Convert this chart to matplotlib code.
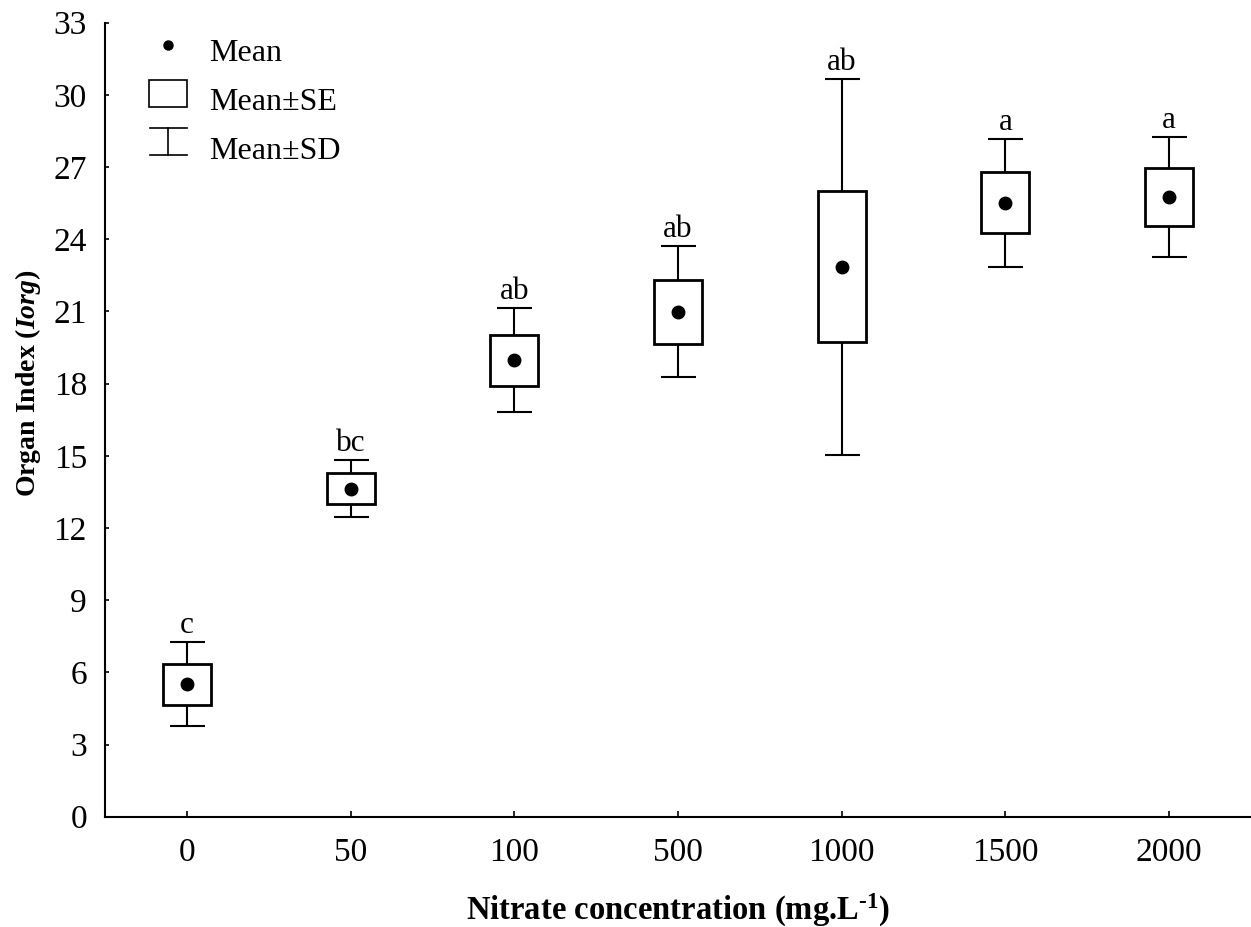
import numpy as np
import matplotlib
matplotlib.use('Agg')
import matplotlib.pyplot as plt
from matplotlib.patches import Rectangle

# Gegevens
concentrations = ['0', '50', '100', '500', '1000', '1500', '2000']
means = [5.50, 13.64, 18.97, 20.99, 22.85, 25.52, 25.76]
se = [0.84, 0.645, 1.06, 1.335, 3.135, 1.28, 1.22]
sd = [1.74, 1.165, 2.16, 2.71, 7.81, 2.655, 2.50]
letters = ['c', 'bc', 'ab', 'ab', 'ab', 'a', 'a']
y_ticks = list(range(0, 34, 3))


def main():
	plt.rcParams['font.family'] = 'Liberation Serif'
	plt.rcParams['mathtext.fontset'] = 'custom'
	plt.rcParams['mathtext.rm'] = 'Liberation Serif'
	plt.rcParams['mathtext.it'] = 'Liberation Serif:italic'
	plt.rcParams['mathtext.bf'] = 'Liberation Serif:bold'
	plt.rcParams['mathtext.bfit'] = 'Liberation Serif:italic:bold'

	fig = plt.figure(figsize=(12.51, 9.27), dpi=100)
	ax = fig.add_axes([0.0839, 0.119, 0.9161, 0.8565])

	x = np.arange(len(concentrations))
	m = np.array(means)
	s = np.array(se)

	# Mean ± SD
	ax.errorbar(x, m, yerr=sd, fmt='none', ecolor='black', elinewidth=1.5,
				capsize=12.6, capthick=1.5, zorder=1)
	# Mean ± SE (witte doos)
	ax.bar(x, 2 * s, bottom=m - s, width=0.293, facecolor='white',
		   edgecolor='black', linewidth=2, zorder=2)
	# Mean
	ax.plot(x, m, 'o', color='black', markersize=9, zorder=3)

	# Letters boven de foutbalken
	for xi, mi, sdi, lab in zip(x, means, sd, letters):
		ax.annotate(lab, (xi, mi + sdi), xytext=(0, 6.5), textcoords='offset points',
					ha='center', va='baseline', fontsize=22.5)

	ax.set_xlim(-0.5, 6.5)
	ax.set_ylim(0, 33)
	ax.set_xticks(x)
	ax.set_xticklabels(concentrations)
	ax.set_yticks(y_ticks)
	ax.tick_params(axis='x', direction='in', length=4, width=1.2, pad=15, labelsize=24)
	ax.tick_params(axis='y', direction='in', length=3, width=1.2, pad=13, labelsize=24)
	ax.spines['top'].set_visible(False)
	ax.spines['right'].set_visible(False)
	ax.spines['left'].set_linewidth(1.5)
	ax.spines['bottom'].set_linewidth(1.5)

	# Aslabels
	fig.text(0.542, 0.0076, 'Nitrate concentration (mg.L$^{\\mathbf{\u20101}}$)',
			 ha='center', va='baseline', fontsize=23.5, fontweight='bold')
	fig.text(0.022, 0.587, r'Organ Index ($\mathbfit{Iorg}$)', rotation=90,
			 ha='center', va='center', fontsize=20, fontweight='bold')

	# Handmatige legenda
	tr = ax.transAxes
	ax.plot([0.055], [0.972], 'o', color='black', markersize=6.5, transform=tr,
			clip_on=False)
	ax.add_patch(Rectangle((0.0384, 0.894), 0.0332, 0.0334, transform=tr,
						   facecolor='white', edgecolor='black', linewidth=1.2))
	ax.plot([0.0393, 0.0718], [0.867, 0.867], color='black', lw=1.2, transform=tr)
	ax.plot([0.0393, 0.0718], [0.833, 0.833], color='black', lw=1.2, transform=tr)
	ax.plot([0.0552, 0.0552], [0.833, 0.867], color='black', lw=1.2, transform=tr)
	ax.text(0.091, 0.9606, 'Mean', transform=tr, ha='left', va='center', fontsize=23)
	ax.text(0.091, 0.899, 'Mean±SE', transform=tr, ha='left', va='center', fontsize=23)
	ax.text(0.091, 0.838, 'Mean±SD', transform=tr, ha='left', va='center', fontsize=23)

	fig.savefig('out.png', dpi=100)


if __name__ == '__main__':
	main()
